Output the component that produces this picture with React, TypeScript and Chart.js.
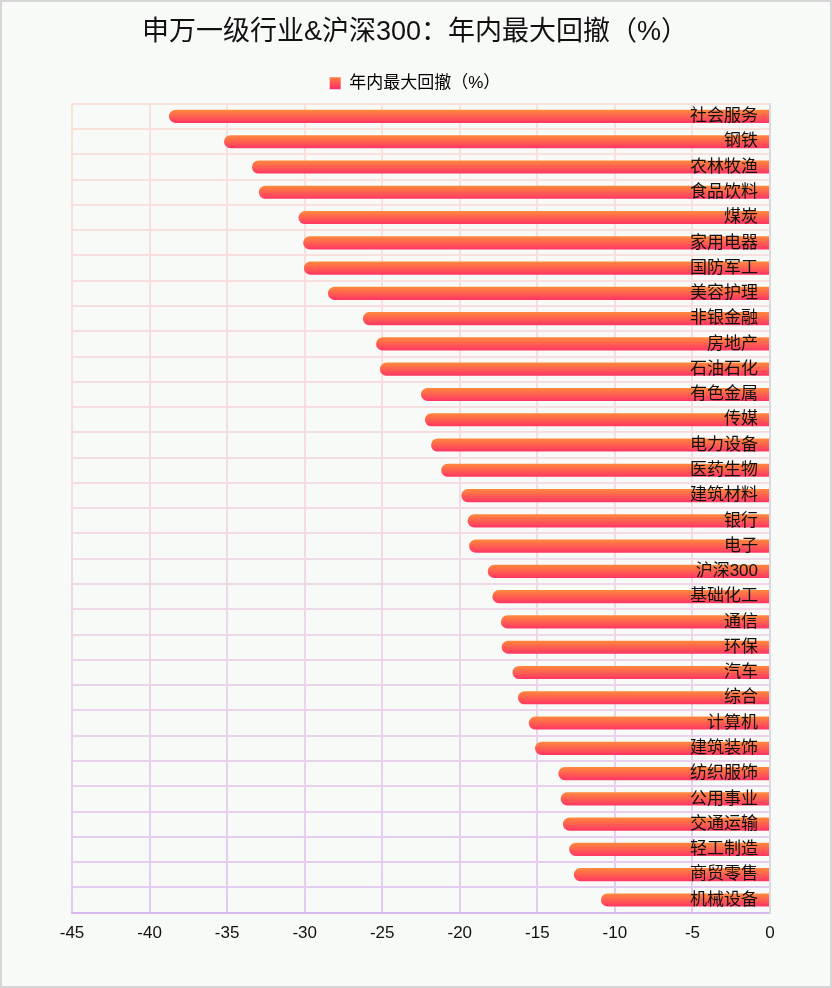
import { useEffect, useRef } from 'react';
import { Chart, registerables } from 'chart.js';

Chart.register(...registerables);

const categories: string[] = [
  '社会服务', '钢铁', '农林牧渔', '食品饮料', '煤炭', '家用电器', '国防军工', '美容护理',
  '非银金融', '房地产', '石油石化', '有色金属', '传媒', '电力设备', '医药生物', '建筑材料',
  '银行', '电子', '沪深300', '基础化工', '通信', '环保', '汽车', '综合',
  '计算机', '建筑装饰', '纺织服饰', '公用事业', '交通运输', '轻工制造', '商贸零售', '机械设备',
];

const maxDrawdown: number[] = [
  -38.75, -35.2, -33.4, -32.95, -30.4, -30.1, -30.05, -28.5,
  -26.25, -25.4, -25.15, -22.5, -22.25, -21.85, -21.2, -19.9,
  -19.5, -19.4, -18.2, -17.9, -17.35, -17.3, -16.6, -16.25,
  -15.55, -15.15, -13.65, -13.5, -13.35, -12.95, -12.65, -10.9,
];

const seriesName = '年内最大回撤（%）';
const titleText = '申万一级行业&沪深300：年内最大回撤（%）';
const xMin = -45;
const xMax = 0;
const xStep = 5;

const FONT = "'Liberation Sans', 'Noto Sans CJK SC', sans-serif";

export default function App() {
  const ref = useRef<HTMLCanvasElement>(null);

  useEffect(() => {
    const canvas = ref.current;
    if (!canvas) return;

    const gridColor = (ctx: any) => {
      const chart = ctx.chart;
      const a = chart.chartArea;
      if (!a) return '#efdde6';
      const g = chart.ctx.createLinearGradient(0, a.top, 0, a.bottom);
      g.addColorStop(0, '#f9e2d9');
      g.addColorStop(0.5, '#f4dbe5');
      g.addColorStop(1, '#e2cbf2');
      return g;
    };

    const barFill = (ctx: any) => {
      const chart = ctx.chart;
      if (ctx.type !== 'data' || !chart.scales || !chart.scales.y) return '#ff5f50';
      const c = chart.scales.y.getPixelForValue(ctx.dataIndex);
      const g = chart.ctx.createLinearGradient(0, c - 7, 0, c + 7);
      g.addColorStop(0, '#ff8c3a');
      g.addColorStop(1, '#ff3366');
      return g;
    };

    const legendGap = {
      id: 'legendGap',
      beforeLayout(c: any) {
        const lg = c.legend;
        if (lg && !lg.__patched) {
          const orig = lg.fit;
          lg.fit = function (this: any) {
            orig.call(this);
            this.height += 2;
          };
          lg.__patched = true;
        }
      },
    };

    const chart = new Chart(canvas, {
      type: 'bar',
      data: {
        labels: categories,
        datasets: [
          {
            label: seriesName,
            data: maxDrawdown,
            backgroundColor: barFill,
            borderWidth: 0,
            borderRadius: 7,
            borderSkipped: 'start',
            barPercentage: 0.52,
            categoryPercentage: 1,
          },
        ],
      },
      plugins: [legendGap],
      options: {
        indexAxis: 'y',
        responsive: false,
        animation: false,
        devicePixelRatio: 1,
        layout: { padding: { left: 58, right: 60, top: 0, bottom: 31 } },
        plugins: {
          title: {
            display: true,
            text: titleText,
            color: '#111',
            font: { family: FONT, size: 27, weight: 'normal' },
            padding: { top: 14, bottom: 11.4 },
          },
          legend: {
            display: true,
            position: 'top',
            labels: {
              color: '#222',
              font: { family: FONT, size: 17 },
              boxWidth: 11,
              boxHeight: 12,
              padding: 15,
              generateLabels: (c: any) => {
                const g = c.ctx.createLinearGradient(0, 73, 0, 86);
                g.addColorStop(0, '#ff8c3a');
                g.addColorStop(1, '#ff3366');
                return [
                  {
                    text: seriesName,
                    fillStyle: g,
                    strokeStyle: 'rgba(0,0,0,0)',
                    lineWidth: 0,
                    hidden: false,
                    datasetIndex: 0,
                  },
                ];
              },
            },
          },
          tooltip: { enabled: false },
        },
        scales: {
          x: {
            type: 'linear',
            min: xMin,
            max: xMax,
            ticks: {
              stepSize: xStep,
              color: '#111',
              font: { family: FONT, size: 17 },
              padding: 11,
            },
            grid: { color: gridColor, lineWidth: 2, drawTicks: false },
            border: { display: true, color: '#d7b9ef', width: 2 },
          },
          y: {
            type: 'category',
            position: 'right',
            afterFit: (s: any) => {
              s.width = 0;
            },
            ticks: {
              mirror: true,
              autoSkip: false,
              color: '#111',
              font: { family: FONT, size: 17 },
              padding: -12,
              z: 1,
            },
            grid: { color: gridColor, lineWidth: 2, drawTicks: false, offset: true },
            border: { display: true, color: '#dcd8e0', width: 2 },
          },
          yPad: {
            type: 'category',
            axis: 'y',
            position: 'left',
            labels: categories,
            afterFit: (s: any) => {
              s.width = 12;
            },
            ticks: { display: false },
            grid: { display: false, drawTicks: false },
            border: { display: false },
          },
        },
      },
    });

    return () => chart.destroy();
  }, []);

  return (
    <div
      style={{
        position: 'absolute',
        left: 0,
        top: 0,
        width: 832,
        height: 988,
        boxSizing: 'border-box',
        border: '2px solid #d6d6d6',
        background: '#f8faf7',
      }}
    >
      <canvas ref={ref} width={828} height={984} style={{ display: 'block' }} />
    </div>
  );
}
